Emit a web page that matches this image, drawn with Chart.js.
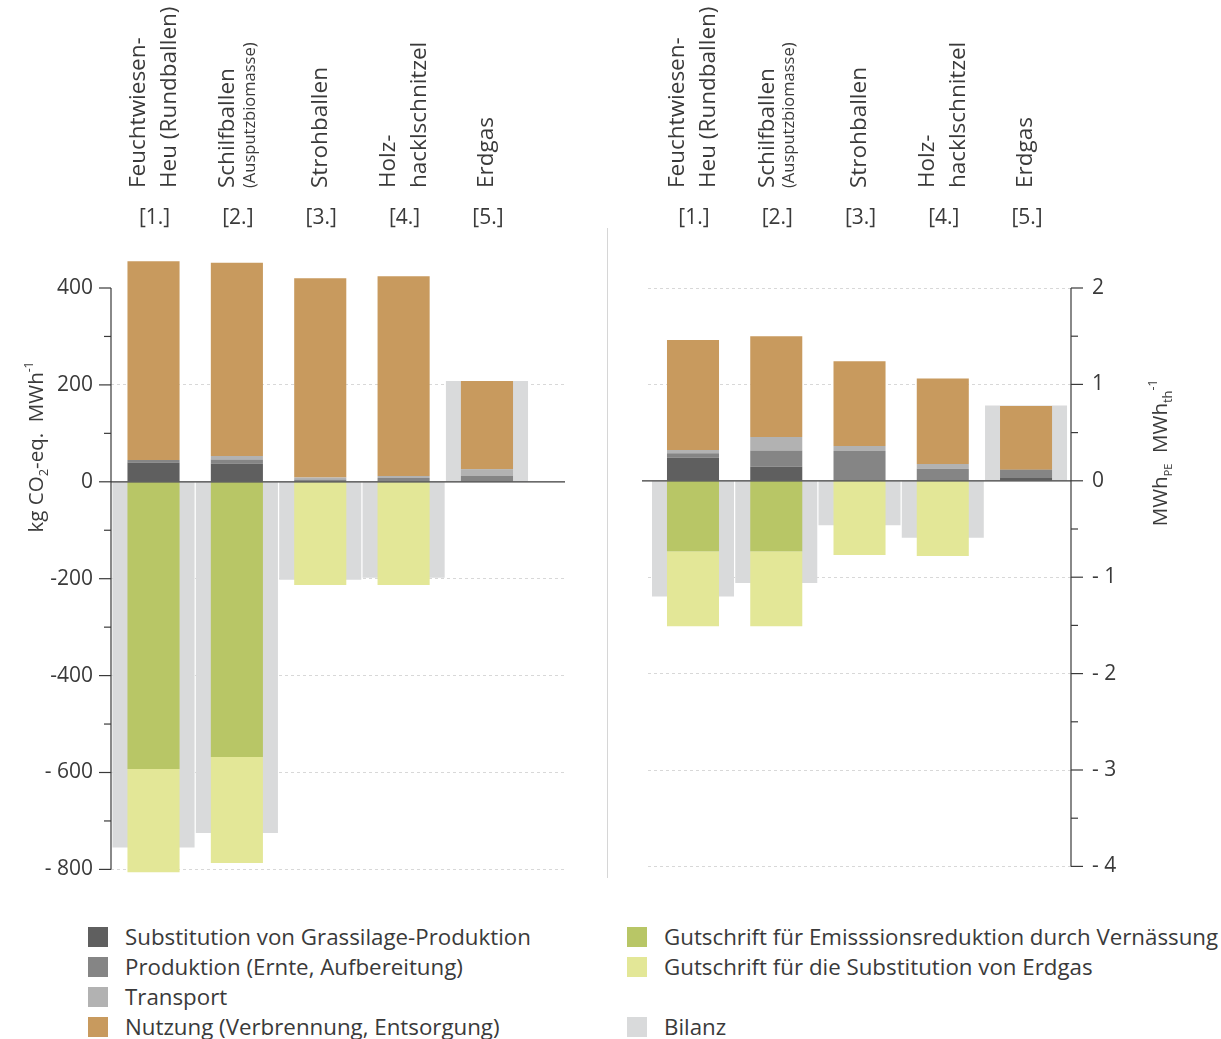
<!DOCTYPE html>
<html lang="de">
<head>
  <meta charset="UTF-8" />
  <title>Treibhausgas- und Primärenergiebilanz</title>
  <script src="https://cdn.jsdelivr.net/npm/chart.js"></script>
  <style>
    *{margin:0;padding:0;box-sizing:border-box}
    body{width:1221px;height:1039px;background:#fff;font-family:'Open Sans',sans-serif;color:#3a3a3a;position:relative;overflow:hidden}
    .wrap{position:absolute;top:0;height:900px}
    #wrapLeft{left:0;width:600px}
    #wrapRight{left:610px;width:611px}
    .sep{position:absolute;left:607px;top:228px;width:1px;height:650px;background:#d6d6d6}
    .leg{position:absolute;display:flex;align-items:center;font-size:22.3px;line-height:26px;white-space:nowrap}
    .leg i{display:inline-block;width:20px;height:20px;margin-right:17px}
  </style>
</head>
<body>
  <div class="wrap" id="wrapLeft"><canvas id="co2Chart"></canvas></div>
  <div class="sep"></div>
  <div class="wrap" id="wrapRight"><canvas id="peChart"></canvas></div>
  <div id="legend"></div>

  <script>
    // Kategorien (Position auf der x-Achse, Nummer, Beschriftung)
    const positions = [1, 2, 3, 4, 5];
    const catNumbers = ['[1.]', '[2.]', '[3.]', '[4.]', '[5.]'];
    const catLine1 = ['Feuchtwiesen-', 'Schilfballen', 'Strohballen', 'Holz-', 'Erdgas'];
    const catLine2 = ['Heu (Rundballen)', '(Ausputzbiomasse)', '', 'hacklschnitzel', ''];

    const seriesNames = [
      'Substitution von Grassilage-Produktion',
      'Produktion (Ernte, Aufbereitung)',
      'Transport',
      'Nutzung (Verbrennung, Entsorgung)',
      'Gutschrift für Emisssionsreduktion durch Vernässung',
      'Gutschrift für die Substitution von Erdgas',
      'Bilanz'
    ];
    const seriesColors = ['#5f5f5f', '#858585', '#b2b2b2', '#c89a5e', '#b8c666', '#e3e797', '#d9dadb'];

    // links: kg CO2-eq. / MWh
    const co2Substitution = [40, 38, 0, 0, 0];
    const co2Produktion   = [5, 8, 5, 8, 12];
    const co2Transport    = [0, 7, 4, 4, 14];
    const co2Nutzung      = [410, 399, 411, 412, 182];
    const co2Vernaessung  = [-593, -568, 0, 0, 0];
    const co2Erdgas       = [-213, -219, -213, -213, 0];
    const co2Bilanz       = [-755, -725, -202, -198, 208];
    const co2TickValues = [400, 200, 0, -200, -400, -600, -800];
    const co2TickLabels = ['400', '200', '0', '-200', '-400', '- 600', '- 800'];

    // rechts: MWh_PE / MWh_th
    const peSubstitution = [0.24, 0.145, 0, 0, 0.03];
    const peProduktion   = [0.045, 0.17, 0.31, 0.125, 0.085];
    const peTransport    = [0.035, 0.14, 0.05, 0.05, 0];
    const peNutzung      = [1.14, 1.045, 0.88, 0.885, 0.66];
    const peVernaessung  = [-0.73, -0.73, 0, 0, 0];
    const peErdgas       = [-0.78, -0.78, -0.77, -0.78, 0];
    const peBilanz       = [-1.2, -1.06, -0.46, -0.59, 0.78];
    const peTickValues = [2, 1, 0, -1, -2, -3, -4];
    const peTickLabels = ['2', '1', '0', '- 1', '- 2', '- 3', '- 4'];

    const FONT = '"Open Sans", sans-serif';
    const INK = '#3a3a3a';

    function makeDatasets(series) {
      return series.map((vals, k) => ({
        label: seriesNames[k],
        data: vals.map((v, i) => ({ x: positions[i], y: v })),
        backgroundColor: seriesColors[k],
        stack: k === 6 ? 'bilanz' : 'teile',
        order: k === 6 ? 1 : 0,
        barPercentage: k === 6 ? 0.985 : 0.625,
        categoryPercentage: 1,
        grouped: false,
        borderWidth: 0,
        clip: false
      }));
    }

    // Text mit Hoch-/Tiefstellung, um -90° gedreht
    function drawRuns(ctx, runs, cx, cy) {
      ctx.save();
      ctx.translate(cx, cy);
      ctx.rotate(-Math.PI / 2);
      let total = 0;
      runs.forEach(r => { ctx.font = r.size + 'px ' + FONT; r.w = ctx.measureText(r.text).width; total += r.w; });
      let x = -total / 2;
      ctx.fillStyle = INK; ctx.textAlign = 'left'; ctx.textBaseline = 'alphabetic';
      runs.forEach(r => { ctx.font = r.size + 'px ' + FONT; ctx.fillText(r.text, x, 7 + (r.dy || 0)); x += r.w; });
      ctx.restore();
    }

    function panelPlugin(cfg) {
      return {
        id: 'panel',
        afterDraw(chart) {
          const ctx = chart.ctx, a = chart.chartArea;
          const ys = chart.scales.y, xs = chart.scales.x;
          const ax = cfg.side === 'left' ? a.left : a.right;
          const dir = cfg.side === 'left' ? -1 : 1;
          ctx.save();
          ctx.strokeStyle = INK; ctx.lineWidth = 1.2;
          // Achse
          ctx.beginPath();
          ctx.moveTo(ax, ys.getPixelForValue(ys.max));
          ctx.lineTo(ax, ys.getPixelForValue(ys.min));
          ctx.stroke();
          // Teilstriche
          ys.ticks.forEach(t => {
            const y = ys.getPixelForValue(t.value);
            const len = cfg.tickValues.includes(t.value) ? 12 : 7;
            ctx.beginPath(); ctx.moveTo(ax, y); ctx.lineTo(ax + dir * len, y); ctx.stroke();
          });
          // Nulllinie
          const y0 = ys.getPixelForValue(0);
          ctx.beginPath(); ctx.moveTo(a.left - cfg.zeroExtra, y0); ctx.lineTo(a.right, y0); ctx.stroke();
          // Kategorien oben
          ctx.fillStyle = INK;
          positions.forEach((p, i) => {
            const cx = xs.getPixelForValue(p);
            ctx.font = '21px ' + FONT; ctx.textAlign = 'center'; ctx.textBaseline = 'middle';
            ctx.fillText(catNumbers[i], cx + 1, 218);
            const lines = [];
            if (catLine2[i]) {
              const small = i === 1;
              lines.push({ t: catLine1[i], dx: small ? -9 : -15, size: 22.5 });
              lines.push({ t: catLine2[i], dx: small ? 13 : 16, size: small ? 16.5 : 22.5 });
            } else {
              lines.push({ t: catLine1[i], dx: 0, size: 22.5 });
            }
            lines.forEach(l => {
              ctx.save();
              ctx.translate(cx + l.dx, 188);
              ctx.rotate(-Math.PI / 2);
              ctx.font = l.size + 'px ' + FONT; ctx.textAlign = 'left'; ctx.textBaseline = 'middle';
              ctx.fillText(l.t, 0, 0);
              ctx.restore();
            });
          });
          ctx.restore();
          drawRuns(ctx, cfg.title, cfg.titleX, cfg.titleY);
        }
      };
    }

    function makeChart(id, series, cfg) {
      return new Chart(document.getElementById(id), {
        type: 'bar',
        data: { datasets: makeDatasets(series) },
        options: {
          responsive: true,
          maintainAspectRatio: false,
          animation: false,
          layout: { padding: cfg.padding },
          plugins: { legend: { display: false }, tooltip: { enabled: false } },
          scales: {
            x: {
              type: 'linear', min: cfg.xMin, max: cfg.xMax, offset: false, stacked: true, display: false,
              ticks: { stepSize: 1, includeBounds: false }
            },
            y: {
              position: cfg.side,
              stacked: true,
              min: cfg.yMin, max: cfg.yMax,
              afterFit: s => { s.width = cfg.axisWidth; },
              ticks: {
                stepSize: cfg.step, autoSkip: false, padding: cfg.tickPad,
                color: INK, font: { family: 'Open Sans', size: 21 },
                callback: v => { const i = cfg.tickValues.indexOf(v); return i < 0 ? '' : cfg.tickLabels[i]; }
              },
              grid: {
                drawTicks: false, lineWidth: 1,
                color: c => (c.tick && cfg.gridValues.includes(c.tick.value)) ? '#d8d8d8' : 'rgba(0,0,0,0)'
              },
              border: { display: false, dash: [3, 3] }
            }
          }
        },
        plugins: [panelPlugin(cfg)]
      });
    }

    makeChart('co2Chart',
      [co2Substitution, co2Produktion, co2Transport, co2Nutzung, co2Vernaessung, co2Erdgas, co2Bilanz], {
      side: 'left', axisWidth: 111, padding: { left: 0, right: 35, top: 288, bottom: 28 },
      xMin: 0.49, xMax: 5.936, yMin: -800, yMax: 400, step: 100, tickPad: 18, zeroExtra: 0,
      tickValues: co2TickValues, tickLabels: co2TickLabels, gridValues: [200, -200, -400, -600, -800],
      title: [{ text: 'kg CO', size: 20.5 }, { text: '2', size: 13, dy: 5 }, { text: '-eq.  MWh', size: 20.5 }, { text: '-1', size: 12, dy: -10 }],
      titleX: 36, titleY: 447
    });

    makeChart('peChart',
      [peSubstitution, peProduktion, peTransport, peNutzung, peVernaessung, peErdgas, peBilanz], {
      side: 'right', axisWidth: 150, padding: { left: 38, right: 0, top: 288, bottom: 28 },
      xMin: 0.4595, xMax: 5.54, yMin: -4, yMax: 2, step: 0.5, tickPad: 21, zeroExtra: 6,
      tickValues: peTickValues, tickLabels: peTickLabels, gridValues: [2, 1, -1, -2, -3, -4],
      title: [{ text: 'MWh', size: 20.5 }, { text: 'PE', size: 11, dy: 5 }, { text: '  MWh', size: 20.5 }, { text: 'th', size: 13, dy: 5 }, { text: '-1', size: 12, dy: -10 }],
      titleX: 550, titleY: 453
    });

    // Legende
    const legendSlots = [[88, 937, 0], [88, 967, 1], [88, 997, 2], [88, 1027, 3], [627, 937, 4], [627, 967, 5], [627, 1027, 6]];
    const legend = document.getElementById('legend');
    legendSlots.forEach(([x, y, k]) => {
      const d = document.createElement('div');
      d.className = 'leg';
      d.style.left = x + 'px';
      d.style.top = (y - 13) + 'px';
      d.innerHTML = '<i style="background:' + seriesColors[k] + '"></i>' + seriesNames[k];
      legend.appendChild(d);
    });
  </script>
</body>
</html>
